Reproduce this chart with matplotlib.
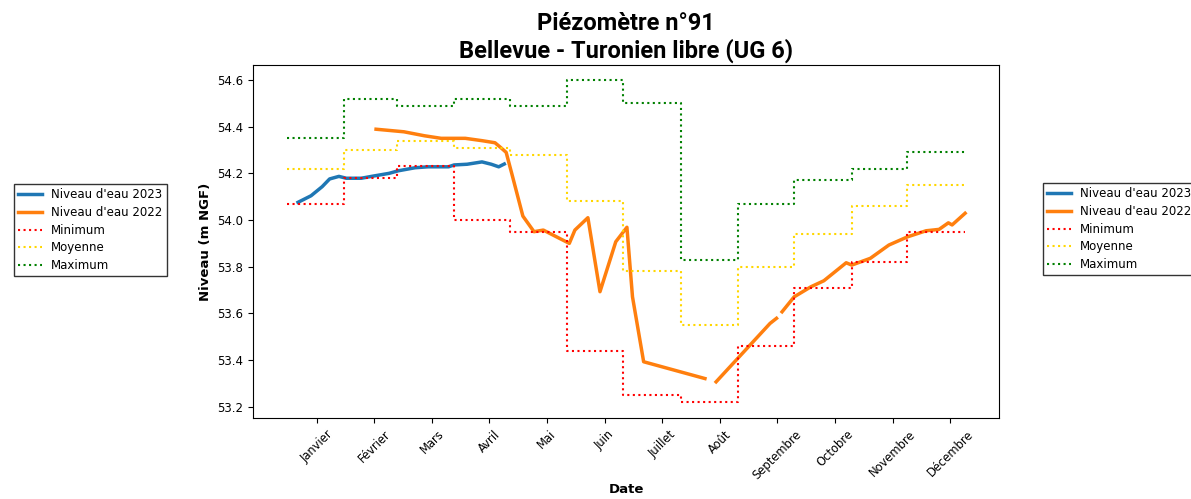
import numpy as np
import matplotlib
matplotlib.use("Agg")
import matplotlib.pyplot as plt

# ---- data ----
month_labels = ["Janvier", "Février", "Mars", "Avril", "Mai", "Juin", "Juillet",
                "Août", "Septembre", "Octobre", "Novembre", "Décembre"]
tick_days = [16, 47, 78, 109, 140, 171, 202, 233, 264, 295, 326, 357]

month_start_days = [0, 31, 59, 90, 120, 151, 181, 212, 243, 273, 304, 334, 365]
minimum = [54.07, 54.18, 54.23, 54.00, 53.95, 53.44, 53.25, 53.22, 53.46, 53.71, 53.82, 53.95]
moyenne = [54.22, 54.30, 54.34, 54.31, 54.28, 54.08, 53.78, 53.55, 53.80, 53.94, 54.06, 54.15]
maximum = [54.35, 54.52, 54.49, 54.52, 54.49, 54.60, 54.50, 53.83, 54.07, 54.17, 54.22, 54.29]

days_2023 = [6, 13, 19, 23, 28, 32, 40, 47, 55, 60, 69, 76, 87, 90, 97, 105, 110, 114, 117]
niveau_2023 = [54.076, 54.104, 54.143, 54.176, 54.187, 54.179, 54.179, 54.189, 54.200,
               54.211, 54.224, 54.228, 54.228, 54.236, 54.239, 54.249, 54.239, 54.228, 54.240]

days_2022 = [48, 63, 74, 83, 96, 105, 112, 115, 118, 121, 127, 133, 138, 152, 155, 162,
             168.5, 177, 183, 186, 192, 225, 228, 231, 260, 263.5, 265, 266.5, 273, 282, 289,
             301, 304, 314, 324, 334, 344, 351, 356, 358, 365]
niveau_2022 = [54.389, 54.378, 54.361, 54.350, 54.350, 54.340, 54.331, 54.311, 54.290,
               54.200, 54.017, 53.950, 53.957, 53.900, 53.957, 54.010, 53.693, 53.907,
               53.969, 53.671, 53.393, 53.321, np.nan, 53.307, 53.557, 53.579, np.nan,
               53.607, 53.671, 53.714, 53.740, 53.817, 53.807, 53.836, 53.893, 53.928,
               53.954, 53.960, 53.988, 53.979, 54.029]

# ---- figure ----
fig = plt.figure(figsize=(11.91, 4.99), dpi=100)
ax = fig.add_axes([0.2124, 0.1623, 0.6264, 0.7074])

ax.plot(days_2023, niveau_2023, color="tab:blue", lw=2.5, label="Niveau d'eau 2023")
ax.plot(days_2022, niveau_2022, color="tab:orange", lw=2.5, label="Niveau d'eau 2022")

def steps(vals):
    return list(vals) + [vals[-1]]

ax.plot(month_start_days, steps(minimum), drawstyle="steps-post", color="red",
        ls=":", lw=1.5, label="Minimum")
ax.plot(month_start_days, steps(moyenne), drawstyle="steps-post", color="gold",
        ls=":", lw=1.5, label="Moyenne")
ax.plot(month_start_days, steps(maximum), drawstyle="steps-post", color="green",
        ls=":", lw=1.5, label="Maximum")

ax.set_xlim(-18.25, 383.25)
ax.set_ylim(53.152, 54.664)
ax.set_yticks([53.2, 53.4, 53.6, 53.8, 54.0, 54.2, 54.4, 54.6])
ax.set_xticks(tick_days)
ax.set_xticklabels(month_labels, rotation=45, fontsize=8.3)
ax.tick_params(axis="y", labelsize=8.5)

ax.set_xlabel("Date", fontweight="bold", fontsize=9.5, labelpad=1)
ax.set_ylabel("Niveau (m NGF)", fontweight="bold", fontsize=9.5)
ax.set_title("Piézomètre n°91\nBellevue - Turonien libre (UG 6)",
             fontsize=17, fontweight="bold", family="Roboto", pad=5)

handles, labels = ax.get_legend_handles_labels()
leg_kw = dict(loc="upper left", borderaxespad=0, fontsize=8.5, fancybox=False,
              edgecolor="black", labelspacing=0.4, borderpad=0.35)
fig.legend(handles, labels, bbox_to_anchor=(0.0118, 0.631), **leg_kw)
fig.legend(handles, labels, bbox_to_anchor=(0.8757, 0.633), **leg_kw)

fig.savefig("out.png", dpi=100)
